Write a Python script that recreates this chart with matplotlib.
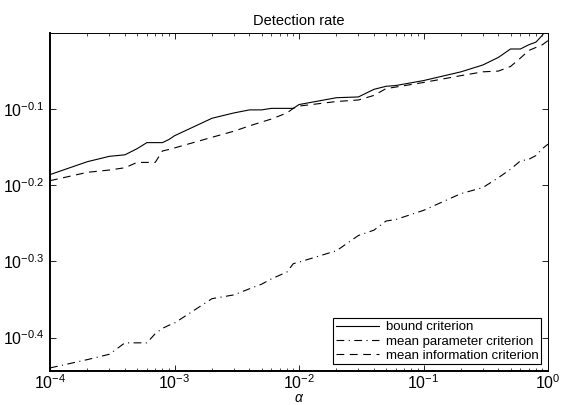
import matplotlib
matplotlib.use("Agg")
import matplotlib.pyplot as plt
import matplotlib.ticker as mticker
import numpy as np

plt.rcParams["font.family"] = ["Liberation Sans", "DejaVu Sans"]
plt.rcParams["mathtext.fontset"] = "custom"
plt.rcParams["mathtext.rm"] = "Liberation Sans"
plt.rcParams["mathtext.it"] = "Liberation Sans:italic"

# alpha grid (log10 values)
alpha = [1e-4, 2e-4, 3e-4, 4e-4, 5e-4, 6e-4, 7e-4, 8e-4, 9e-4,
         1e-3, 2e-3, 3e-3, 4e-3, 5e-3, 6e-3, 8e-3, 9e-3,
         1e-2, 2e-2, 3e-2, 4e-2, 5e-2, 6e-2, 1e-1,
         2e-1, 3e-1, 4e-1, 5e-1, 6e-1, 7e-1, 8e-1, 9e-1, 1.0]

# log10 of detection rate
bound_log = [-0.186, -0.169, -0.162, -0.160, -0.152, -0.144, -0.144, -0.144, -0.140,
             -0.135, -0.112, -0.105, -0.101, -0.101, -0.099, -0.099, -0.099,
             -0.094, -0.085, -0.084, -0.074, -0.070, -0.069, -0.0625,
             -0.051, -0.042, -0.032, -0.021, -0.021, -0.0155, -0.012, -0.003, 0.008]
param_log = [-0.440, -0.429, -0.422, -0.407, -0.407, -0.407, -0.395, -0.388, -0.384,
             -0.381, -0.349, -0.344, -0.336, -0.330, -0.323, -0.314, -0.303,
             -0.301, -0.286, -0.266, -0.259, -0.247, -0.245, -0.233,
             -0.211, -0.203, -0.190, -0.179, -0.168, -0.166, -0.161, -0.152, -0.146]
info_log = [-0.194, -0.183, -0.180, -0.177, -0.170, -0.170, -0.170, -0.155, -0.153,
            -0.151, -0.137, -0.129, -0.122, -0.117, -0.113, -0.105, -0.099,
            -0.096, -0.090, -0.088, -0.082, -0.073, -0.071, -0.065,
            -0.056, -0.051, -0.050, -0.044, -0.033, -0.023, -0.019, -0.0155, -0.010]

labels = ["bound criterion", "mean parameter criterion", "mean information criterion"]
ytick_exp = [-0.4, -0.3, -0.2, -0.1]

fig = plt.figure(figsize=(5.61, 4.05), dpi=100)
ax = fig.add_axes([50 / 561, 1 - 371 / 405, 498 / 561, 338 / 405])

ax.loglog(alpha, 10 ** np.array(bound_log), "k-", lw=0.8, label=labels[0])
ax.loglog(alpha, 10 ** np.array(param_log), "k-.", lw=0.8, label=labels[1],
          dashes=(7, 4, 1, 4))
ax.loglog(alpha, 10 ** np.array(info_log), "k--", lw=0.8, label=labels[2],
          dashes=(7, 5))

ax.set_xlim(1e-4, 1)
ax.set_ylim(10 ** -0.444, 1.0)

ax.set_yticks([10 ** e for e in ytick_exp])
ax.set_yticklabels([rf"$10^{{{e}}}$" for e in ytick_exp])
ax.yaxis.set_minor_locator(mticker.NullLocator())
ax.xaxis.set_major_locator(mticker.LogLocator(base=10))
ax.xaxis.set_minor_locator(mticker.LogLocator(base=10, subs=np.arange(2, 10)))
ax.xaxis.set_minor_formatter(mticker.NullFormatter())

ax.tick_params(which="both", direction="in", top=True, right=True, labelsize=11.5)
ax.tick_params(which="major", length=4, width=0.6, pad=4)
ax.tick_params(axis="x", which="major", pad=1.5)
ax.tick_params(which="minor", length=2, width=0.5)
for side in ("top", "right"):
    ax.spines[side].set_linewidth(0.7)
for side in ("left", "bottom"):
    ax.spines[side].set_linewidth(1.4)

ax.set_title("Detection rate", fontsize=10.5, pad=6)
# x label sits at the very bottom edge, as in the reference
fig.text((50 + 249) / 561, 0.0, r"$\alpha$", fontsize=10,
         ha="center", va="bottom")

leg = ax.legend(loc="lower right", fontsize=9.5, frameon=True, fancybox=False,
                edgecolor="black", framealpha=1, handlelength=3.3,
                borderpad=0.2, labelspacing=0.15, handletextpad=0.5,
                borderaxespad=0.5)
leg.get_frame().set_linewidth(0.8)

fig.savefig("out.png", dpi=100)
